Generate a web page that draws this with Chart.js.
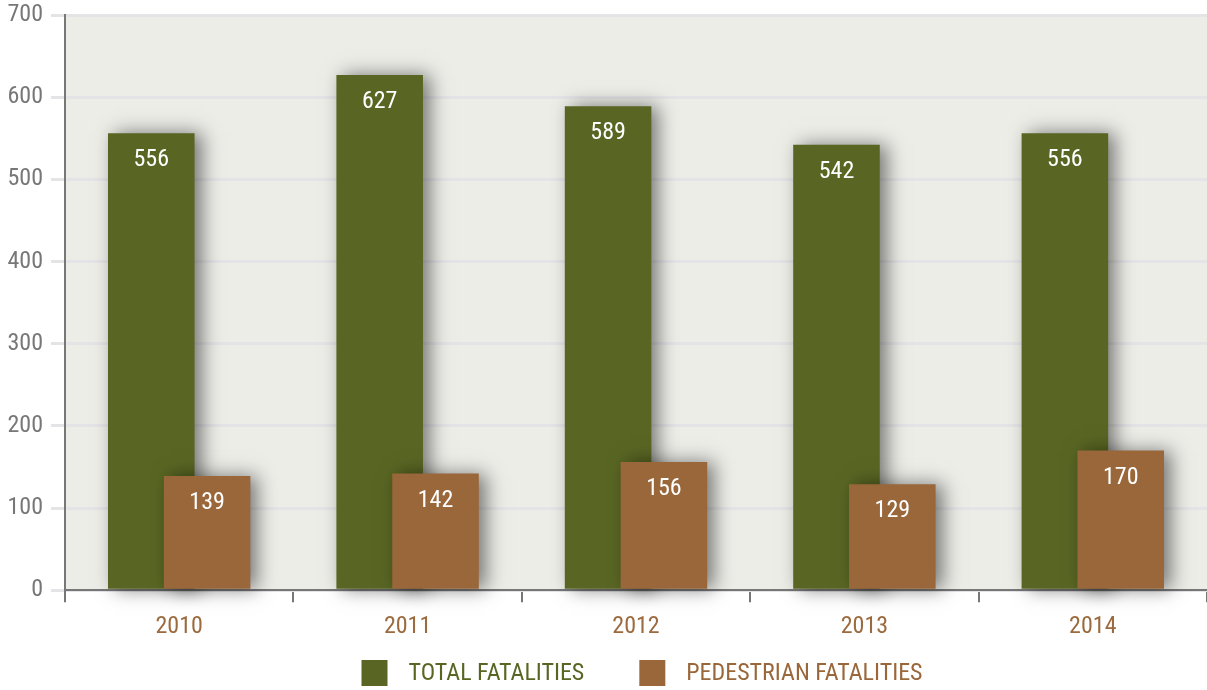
<!DOCTYPE html>
<html>
<head>
<meta charset="utf-8">
<script src="https://cdn.jsdelivr.net/npm/chart.js@4.4.1/dist/chart.umd.min.js"></script>
<style>
  html, body { margin: 0; padding: 0; background: #fff; }
  #wrap { width: 1207px; height: 690px; }
</style>
</head>
<body>
<div id="wrap"><canvas id="chart"></canvas></div>
<script>
const years = ['2010', '2011', '2012', '2013', '2014'];
const totalFatalities = [556, 627, 589, 542, 556];
const pedestrianFatalities = [139, 142, 156, 129, 170];
const yTicks = [0, 100, 200, 300, 400, 500, 600, 700];

const FONT = "'Liberation Sans Narrow', 'Roboto Condensed', 'DejaVu Sans Condensed', sans-serif";
const GREEN = '#596623';
const BROWN = '#9a673a';

// plot background
const plotBg = {
    id: 'plotBg',
    beforeDraw(chart) {
        const a = chart.chartArea, c = chart.ctx;
        c.save();
        c.fillStyle = '#edede8';
        c.fillRect(a.left, a.top, a.right - a.left, a.bottom - a.top);
        c.restore();
    }
};

// draw bars in dataset order (green first, brown over it) with a soft shadow
const barShadow = {
    id: 'barShadow',
    beforeDatasetsDraw(chart) {
        const c = chart.ctx;
        chart.data.datasets.forEach((ds, i) => {
            c.save();
            c.shadowColor = 'rgba(0,0,0,0.5)';
            c.shadowBlur = 18;
            c.shadowOffsetX = 7;
            c.shadowOffsetY = 0;
            chart.getDatasetMeta(i).controller.draw();
            c.restore();
        });
    },
    beforeDatasetDraw() {
        return false; // already drawn above
    }
};

// white value labels near the top of each bar
const valueLabels = {
    id: 'valueLabels',
    afterDatasetsDraw(chart) {
        const c = chart.ctx;
        c.save();
        c.fillStyle = '#ffffff';
        c.font = '24px ' + FONT;
        c.textAlign = 'center';
        c.textBaseline = 'middle';
        chart.data.datasets.forEach((ds, i) => {
            chart.getDatasetMeta(i).data.forEach((bar, j) => {
                c.fillText(ds.data[j], bar.x, bar.y + 27);
            });
        });
        c.restore();
    }
};

// legend drawn by hand: wide gap between swatch and text, text in series colour
const bottomLegend = {
    id: 'bottomLegend',
    afterDraw(chart) {
        const c = chart.ctx, a = chart.chartArea;
        const box = 26, gap = 21, spacing = 55, y = 673;
        c.save();
        c.font = '24px ' + FONT;
        c.textBaseline = 'middle';
        const items = chart.data.datasets.map(ds => ({
            text: ds.label, color: ds.backgroundColor, w: box + gap + c.measureText(ds.label).width
        }));
        const total = items.reduce((s, it) => s + it.w, 0) + spacing * (items.length - 1);
        let x = (a.left + a.right) / 2 + 6 - total / 2;
        items.forEach(it => {
            c.fillStyle = it.color;
            c.fillRect(x, y - box / 2, box, box);
            c.fillText(it.text, x + box + gap, y + 1);
            x += it.w + spacing;
        });
        c.restore();
    }
};

new Chart(document.getElementById('chart'), {
    type: 'bar',
    data: {
        labels: years,
        datasets: [
            {
                label: 'TOTAL FATALITIES',
                data: totalFatalities,
                backgroundColor: GREEN
            },
            {
                label: 'PEDESTRIAN FATALITIES',
                data: pedestrianFatalities,
                backgroundColor: BROWN
            }
        ]
    },
    options: {
        responsive: true,
        maintainAspectRatio: false,
        animation: false,
        datasets: {
            bar: { categoryPercentage: 0.489, barPercentage: 1.55 }
        },
        layout: { padding: { top: 0, right: 0, bottom: 39, left: 0 } },
        scales: {
            x: {
                grid: {
                    offset: true,
                    drawOnChartArea: false,
                    color: '#777',
                    lineWidth: 2,
                    tickLength: 12
                },
                border: { color: '#777', width: 2 },
                ticks: { color: '#9b6a3e', font: { family: FONT, size: 24 }, padding: 10 }
            },
            y: {
                min: 0,
                max: 700,
                afterBuildTicks(scale) { scale.ticks = yTicks.map(v => ({ value: v })); },
                afterFit(scale) {
                    scale.width = 65;
                    scale.paddingTop = 15;
                },
                grid: { color: '#e4e4e6', lineWidth: 3, tickLength: 14 },
                border: { color: '#777', width: 2 },
                ticks: { color: '#777', font: { family: FONT, size: 24 }, padding: 8 }
            }
        },
        plugins: {
            legend: { display: false },
            tooltip: { enabled: false }
        }
    },
    plugins: [plotBg, barShadow, valueLabels, bottomLegend]
});
</script>
</body>
</html>
